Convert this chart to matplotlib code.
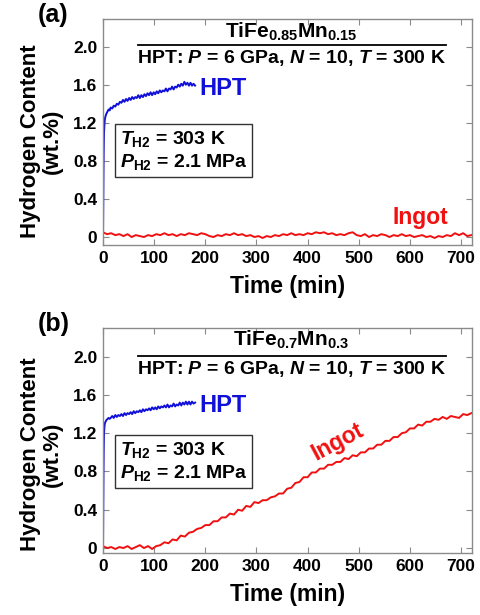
import matplotlib
matplotlib.use("Agg")
from matplotlib import pyplot as plt

plt.rcParams["font.family"] = ["Liberation Sans", "DejaVu Sans"]
plt.rcParams["font.weight"] = "bold"
plt.rcParams["mathtext.fontset"] = "custom"
plt.rcParams["mathtext.rm"] = "Liberation Sans:bold"
plt.rcParams["mathtext.bf"] = "Liberation Sans:bold"
plt.rcParams["mathtext.it"] = "Liberation Sans:italic:bold"

BLUE = "#1010d8"
RED = "#f01010"
FRAME = "#8a8a8a"

# HPT samples (time in min, hydrogen content in wt.%)
hpt_time = [0, 0.5, 1, 1.5, 2, 3, 4, 5, 7, 9, 11, 13,
            15, 18, 21, 24, 27, 30, 33, 36, 39, 42,
            45, 48, 51, 54, 57, 60, 63, 66, 69, 72,
            75, 78, 81, 84, 87, 90, 93, 96, 99, 102,
            105, 108, 111, 114, 117, 120, 123, 126, 129, 132,
            135, 138, 141, 144, 147, 150, 153, 156, 159, 162,
            165, 168, 171, 174, 177, 180]

hpt_a = [0, 0.35, 0.7, 0.95, 1.1, 1.2, 1.25, 1.27, 1.30, 1.32, 1.34, 1.33,
         1.36, 1.35, 1.38, 1.37, 1.40, 1.39, 1.42, 1.41, 1.44, 1.42,
         1.45, 1.43, 1.46, 1.44, 1.47, 1.45, 1.47, 1.46, 1.49, 1.46,
         1.49, 1.47, 1.50, 1.48, 1.51, 1.49, 1.52, 1.49, 1.52, 1.50,
         1.53, 1.51, 1.54, 1.52, 1.54, 1.53, 1.56, 1.53, 1.56, 1.55,
         1.58, 1.55, 1.58, 1.57, 1.60, 1.58, 1.61, 1.59, 1.63, 1.60,
         1.62, 1.59, 1.62, 1.59, 1.61, 1.59]

hpt_b = [0, 0.4, 0.8, 1.05, 1.2, 1.28, 1.31, 1.32, 1.34, 1.35, 1.36, 1.35,
         1.36, 1.38, 1.36, 1.39, 1.37, 1.39, 1.38, 1.40, 1.38, 1.41,
         1.39, 1.41, 1.40, 1.42, 1.40, 1.43, 1.41, 1.43, 1.42, 1.44,
         1.42, 1.45, 1.43, 1.45, 1.44, 1.46, 1.44, 1.47, 1.45, 1.47,
         1.45, 1.48, 1.46, 1.48, 1.47, 1.49, 1.47, 1.50, 1.47, 1.49,
         1.48, 1.51, 1.48, 1.50, 1.49, 1.52, 1.49, 1.52, 1.50, 1.53,
         1.50, 1.53, 1.50, 1.53, 1.51, 1.52]

# Ingot samples, every 8 min from 0 to 720
ingot_time = list(range(0, 721, 8))

ingot_a = [0.05, 0.03, 0.04, 0.02, 0.03, 0.01, 0.03, 0.00, 0.02, 0.01,
           0.00, 0.02, 0.01, 0.03, 0.02, 0.04, 0.02, 0.03, 0.01, 0.03,
           0.02, 0.04, 0.03, 0.02, 0.04, 0.03, 0.01, 0.00, 0.02, 0.01,
           0.03, 0.02, 0.04, 0.02, 0.03, 0.01, 0.02, 0.00, 0.01, -0.01,
           0.01, 0.00, 0.02, 0.01, 0.03, 0.02, 0.04, 0.02, 0.03, 0.02,
           0.04, 0.03, 0.05, 0.04, 0.05, 0.03, 0.04, 0.02, 0.03, 0.02,
           0.04, 0.05, 0.02, 0.01, 0.03, 0.00, 0.02, 0.01, 0.03, 0.02,
           0.00, 0.02, 0.01, 0.03, 0.01, 0.02, 0.00, 0.01, 0.02, 0.00,
           0.01, -0.01, 0.01, 0.00, 0.02, 0.01, 0.04, 0.02, 0.04, 0.01, 0.02]

ingot_b = [0.02, 0.00, 0.01, -0.01, 0.01, 0.00, 0.02, -0.01, 0.01, 0.03,
           0.00, 0.02, -0.01, 0.02, 0.03, 0.06, 0.05, 0.09, 0.08, 0.13,
           0.12, 0.16, 0.17, 0.20, 0.21, 0.24, 0.24, 0.28, 0.28, 0.32,
           0.32, 0.36, 0.35, 0.40, 0.39, 0.44, 0.43, 0.48, 0.47, 0.50,
           0.50, 0.53, 0.54, 0.57, 0.57, 0.62, 0.63, 0.68, 0.69, 0.74,
           0.74, 0.79, 0.79, 0.83, 0.83, 0.87, 0.87, 0.90, 0.90, 0.94,
           0.93, 0.97, 0.96, 1.00, 1.00, 1.04, 1.04, 1.08, 1.08, 1.12,
           1.12, 1.16, 1.16, 1.20, 1.21, 1.25, 1.25, 1.29, 1.28, 1.32,
           1.32, 1.35, 1.34, 1.37, 1.35, 1.38, 1.37, 1.36, 1.40, 1.39, 1.41]

x_ticks = [0, 100, 200, 300, 400, 500, 600, 700]
y_ticks = [0, 0.4, 0.8, 1.2, 1.6, 2.0]
y_tick_labels = ["0", "0.4", "0.8", "1.2", "1.6", "2.0"]

panels = [
    {"label": "(a)", "alloy": r"TiFe$_{0.85}$Mn$_{0.15}$", "hpt": hpt_a,
     "ingot": ingot_a, "rect": [0.2146, 0.6016, 0.7684, 0.3675],
     "ylim": (-0.084, 2.29), "title_y": (0.942, 0.885, 0.827),
     "box_y": 0.418, "ylabel_y": 0.46, "ingot_pos": (620, 0.2, 0)},
    {"label": "(b)", "alloy": r"TiFe$_{0.7}$Mn$_{0.3}$", "hpt": hpt_b,
     "ingot": ingot_b, "rect": [0.2146, 0.1008, 0.7684, 0.3659],
     "ylim": (-0.052, 2.3), "title_y": (0.947, 0.876, 0.818),
     "box_y": 0.407, "ylabel_y": 0.44, "ingot_pos": (458, 1.11, 28)},
]

fig = plt.figure(figsize=(4.8, 6.15), dpi=100)

for p in panels:
    ax = fig.add_axes(p["rect"])
    ax.plot(ingot_time, p["ingot"], color=RED, lw=1.4)
    ax.plot(hpt_time, p["hpt"], color=BLUE, lw=1.4)

    ax.set_xlim(0, 721)
    ax.set_ylim(*p["ylim"])
    ax.set_xticks(x_ticks)
    ax.set_yticks(y_ticks)
    ax.set_yticklabels(y_tick_labels)
    ax.tick_params(direction="in", top=True, right=True, length=4,
                   color=FRAME, labelsize=12.5, pad=4)
    for spine in ax.spines.values():
        spine.set_color(FRAME)
        spine.set_linewidth(1.0)

    ax.set_xlabel("Time (min)", fontsize=16.5, fontweight="bold",
                  labelpad=7)
    ax.set_ylabel("Hydrogen Content\n(wt.%)", fontsize=16,
                  fontweight="bold", linespacing=1.05)
    ax.yaxis.set_label_coords(-0.11, p["ylabel_y"])

    t_top, t_line, t_bot = p["title_y"]
    ax.text(0.51, t_top, p["alloy"], transform=ax.transAxes,
            ha="center", va="center", fontsize=15)
    ax.plot([0.095, 0.93], [t_line, t_line], transform=ax.transAxes,
            color="black", lw=1.3)
    ax.text(0.51, t_bot, r"HPT: $P$ = 6 GPa, $N$ = 10, $T$ = 300 K",
            transform=ax.transAxes, ha="center", va="center",
            fontsize=14)

    ax.text(0.045, p["box_y"],
            "$T_{\\rm H2}$ = 303 K\n$P_{\\rm H2}$ = 2.1 MPa",
            transform=ax.transAxes, ha="left", va="center", fontsize=14,
            linespacing=1.25,
            bbox=dict(boxstyle="square,pad=0.25", fc="white",
                      ec="#333333", lw=1.0))

    hpt_y = p["hpt"][-1]
    ax.text(188, hpt_y - 0.03, "HPT", color=BLUE, fontsize=17,
            ha="left", va="center")
    ix, iy, rot = p["ingot_pos"]
    ax.text(ix, iy, "Ingot", color=RED, fontsize=16.5, ha="center",
            va="center", rotation=rot)

    fig.text(p["rect"][0] - 0.135, p["rect"][1] + p["rect"][3] + 0.007,
             p["label"], fontsize=18, ha="left", va="center")

fig.savefig("out.png", dpi=100)
